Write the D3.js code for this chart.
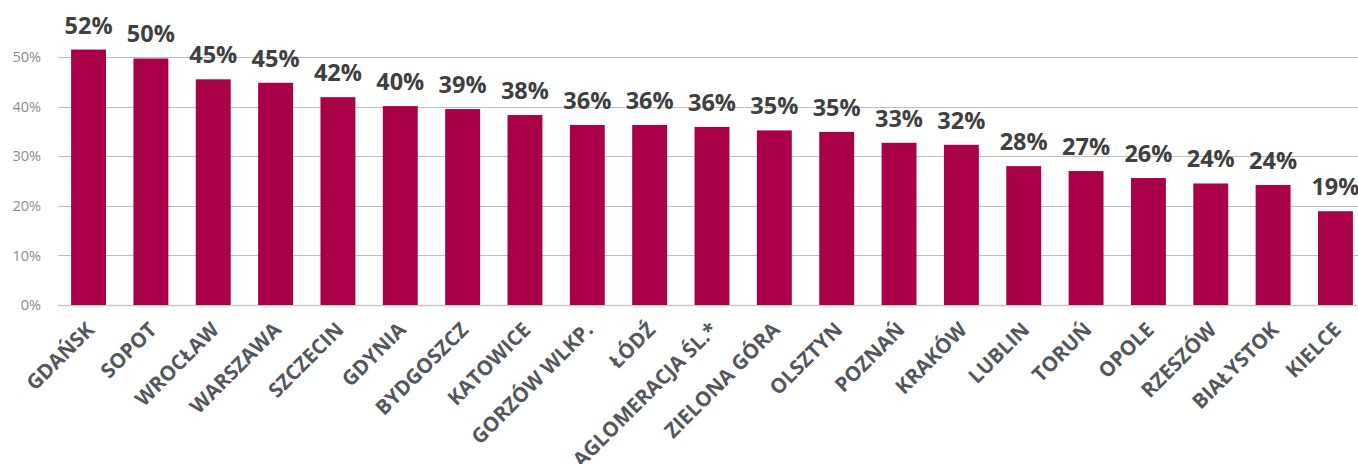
<!DOCTYPE html>
<html>
<head>
<meta charset="utf-8">
<script src="https://cdn.jsdelivr.net/npm/d3@7"></script>
<style>
  body { margin: 0; background: #fff; }
  svg { display: block; font-family: "Open Sans", sans-serif; }
</style>
</head>
<body>
<svg id="chart"></svg>
<script>
var width = 1358;
var height = 464;

var cities = ["GDAŃSK", "SOPOT", "WROCŁAW", "WARSZAWA", "SZCZECIN", "GDYNIA", "BYDGOSZCZ",
              "KATOWICE", "GORZÓW WLKP.", "ŁÓDŹ", "AGLOMERACJA ŚL.*", "ZIELONA GÓRA", "OLSZTYN",
              "POZNAŃ", "KRAKÓW", "LUBLIN", "TORUŃ", "OPOLE", "RZESZÓW", "BIAŁYSTOK", "KIELCE"];
var shares = [51.5, 49.7, 45.5, 44.8, 41.9, 40.1, 39.5,
              38.3, 36.3, 36.3, 35.9, 35.2, 34.9,
              32.7, 32.3, 28.0, 27.0, 25.6, 24.5, 24.2, 18.9];
var labels = ["52%", "50%", "45%", "45%", "42%", "40%", "39%",
              "38%", "36%", "36%", "36%", "35%", "35%",
              "33%", "32%", "28%", "27%", "26%", "24%", "24%", "19%"];
var yTicks = [0, 10, 20, 30, 40, 50];

var data = cities.map((c, i) => ({city: c, value: shares[i], label: labels[i]}));

var xScale = d3.scaleBand()
                .domain(cities)
                .range([58, 1366])
                .paddingInner(0.44)
                .paddingOuter(0.21);

var yScale = d3.scaleLinear()
                .domain([0, 50])
                .range([305, 57]);

var svg = d3.select("#chart")
            .attr("width", width)
            .attr("height", height);

// gridlines
svg.append("g")
    .selectAll("line")
    .data(yTicks)
    .enter()
    .append("line")
      .attr("x1", 58)
      .attr("x2", width)
      .attr("y1", d => Math.round(yScale(d)) + 0.5)
      .attr("y2", d => Math.round(yScale(d)) + 0.5)
      .attr("stroke", d => d === 0 ? "#c8c8c8" : "#bfbfbf")
      .attr("stroke-width", d => d === 0 ? 1.5 : 1);

// y tick labels
svg.append("g")
    .selectAll("text")
    .data(yTicks)
    .enter()
    .append("text")
      .attr("x", 41)
      .attr("y", d => yScale(d))
      .attr("dy", "0.36em")
      .attr("text-anchor", "end")
      .attr("fill", "#8c8c8c")
      .attr("font-size", "14.5px")
      .text(d => d + "%");

var bars = svg.selectAll(".bar")
            .data(data)
            .enter()
            .append("g")
              .classed("bar", true);

bars
    .append("rect")
      .attr("x", d => xScale(d.city))
      .attr("y", d => yScale(d.value))
      .attr("width", xScale.bandwidth())
      .attr("height", d => yScale(0) - yScale(d.value))
      .attr("fill", "#aa0047");

bars
    .append("text")
      .attr("x", d => xScale(d.city) + xScale.bandwidth() / 2)
      .attr("y", d => yScale(d.value) - 16)
      .attr("text-anchor", "middle")
      .attr("fill", "#404040")
      .attr("font-size", "23.5px")
      .attr("font-weight", "bold")
      .text(d => d.label);

// rotated category labels
bars
    .append("text")
      .attr("transform", d => "translate(" + (xScale(d.city) + xScale.bandwidth() / 2 + 7) + ",331) rotate(-45)")
      .attr("text-anchor", "end")
      .attr("fill", "#54575c")
      .attr("font-size", "20.5px")
      .attr("font-weight", "bold")
      .text(d => d.city);
</script>
</body>
</html>
